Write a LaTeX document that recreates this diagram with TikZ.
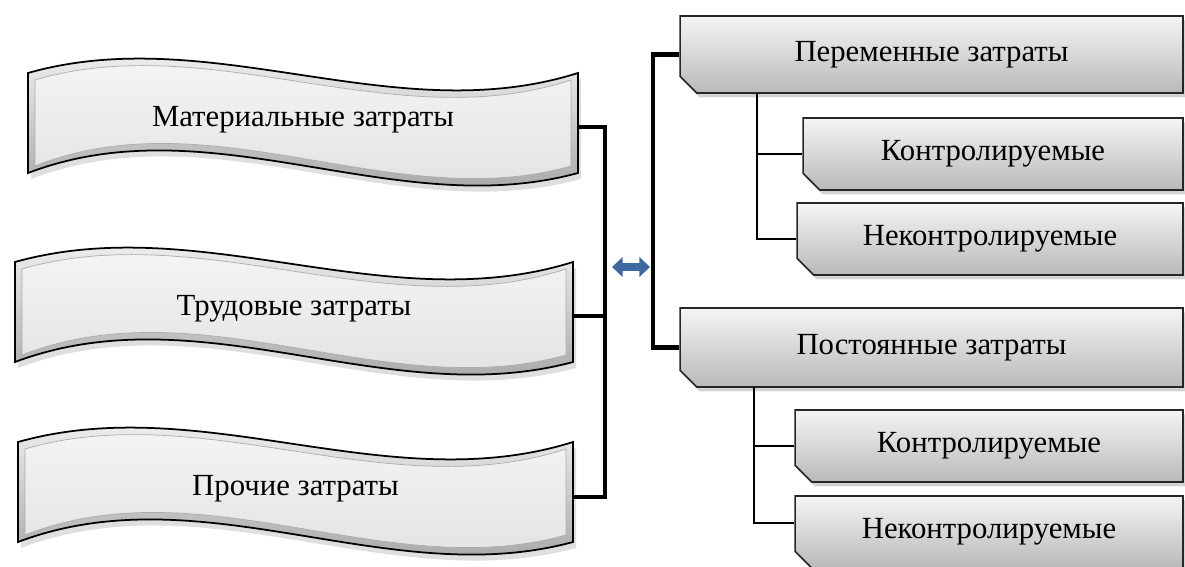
\documentclass[tikz,border=0pt]{standalone}
\usepackage{fontspec}
\setmainfont{Liberation Serif}
\usepackage{tikz}
\usetikzlibrary{arrows.meta}
\usetikzlibrary{calc}
\usetikzlibrary{positioning}
\usetikzlibrary{shadows}
\usetikzlibrary{shapes.misc}
\definecolor{arrowblue}{RGB}{62,106,160}

% wavy banner: name, left x, right x, top y, bottom y, text
\newcommand{\wavebanner}[6]{%
  \pgfmathsetmacro{\wa}{#2+(#3-#2)/3}%
  \pgfmathsetmacro{\wb}{#2+2*(#3-#2)/3}%
  \fill[gray!55, opacity=.45]
    (#2+3,#4+6) .. controls (\wa+3,#4-46) and (\wb+3,#4+64) .. (#3+3,#4+6)
    -- (#3+3,#5+6) .. controls (\wb+3,#5+56) and (\wa+3,#5-64) .. (#2+3,#5+6) -- cycle;
  \draw[banner outer]
    (#2,#4) .. controls (\wa,#4-52) and (\wb,#4+58) .. (#3,#4)
    -- (#3,#5) .. controls (\wb,#5+50) and (\wa,#5-70) .. (#2,#5) -- cycle;
  \draw[banner inner]
    (#2+7,#4+7) .. controls (\wa,#4-45) and (\wb,#4+65) .. (#3-7,#4+7)
    -- (#3-7,#5-7) .. controls (\wb,#5+43) and (\wa,#5-77) .. (#2+7,#5-7) -- cycle;
  \node[bannertext] (#1) at ({(#2+#3)/2},{(#4+#5)/2-3}) {#6};
}

\begin{document}
\begin{tikzpicture}[
    x=0.02cm, y=-0.02cm,
    banner outer/.style={draw=black, line width=1pt, top color=white, bottom color=gray!80},
    banner inner/.style={draw=gray!65, line width=0.4pt, top color=gray!5, bottom color=gray!25},
    bannertext/.style={font=\fontsize{17.5}{20}\selectfont, inner sep=0pt},
    costbox/.style={
      chamfered rectangle, chamfered rectangle corners=south west,
      chamfered rectangle xsep=6.5pt,
      draw=black!85, line width=0.9pt,
      top color=gray!8, bottom color=gray!55,
      drop shadow={shadow xshift=1.5pt, shadow yshift=-2.5pt, opacity=.35},
      font=\fontsize{17.5}{20}\selectfont, inner sep=0pt,
    },
    thickline/.style={line width=2.7pt, line join=miter},
    thinline/.style={line width=0.7pt},
    dblarrow/.style={arrowblue, line width=5pt,
      {Triangle[length=6pt, width=11pt]}-{Triangle[length=6pt, width=11pt]}},
  ]
  \clip (0,0) rectangle (1185,567);

  % left side: kinds of costs
  \wavebanner{mat}{28}{578}{73}{173}{Материальные затраты}
  \wavebanner{lab}{15}{573}{262}{362}{Трудовые затраты}
  \wavebanner{oth}{18}{573}{442}{542}{Прочие затраты}

  \coordinate (r1) at (578,127);
  \coordinate (r2) at (573,316);
  \coordinate (r3) at (573,497);
  \coordinate (j) at (605,267);
  \coordinate (k) at (653,267);

  % right side: behaviour of costs
  \node[costbox, minimum width=10.06cm, minimum height=1.54cm] (var) at (931.5,54.5) {Переменные затраты};
  \node[costbox, minimum width=7.6cm, minimum height=1.44cm] (var-c) at (993,154) {Контролируемые};
  \node[costbox, minimum width=7.72cm, minimum height=1.44cm] (var-n) at (990,239) {Неконтролируемые};
  \node[costbox, minimum width=10.06cm, minimum height=1.58cm] (fix) at (931.5,347.5) {Постоянные затраты};
  \node[costbox, minimum width=7.76cm, minimum height=1.44cm] (fix-c) at (989,446) {Контролируемые};
  \node[costbox, minimum width=7.76cm, minimum height=1.44cm] (fix-n) at (989,532) {Неконтролируемые};

  \coordinate (v1) at (757,93);
  \coordinate (v2) at (754,387);

  \begin{scope}[thickline]
    \draw (r1) -| (j) |- (r3);
    \draw (r2) -- (r2 -| j);
    \draw (var.west) -| (k) |- (fix.west);
  \end{scope}

  \draw[dblarrow, shorten <=4pt, shorten >=1.7pt] (j) -- (k);

  \begin{scope}[thinline]
    \draw (v1) |- (var-c.west);
    \draw (v1) |- (var-n.west);
    \draw (v2) |- (fix-c.west);
    \draw (v2) |- ([yshift=0.18cm]fix-n.west);
  \end{scope}
\end{tikzpicture}
\end{document}
